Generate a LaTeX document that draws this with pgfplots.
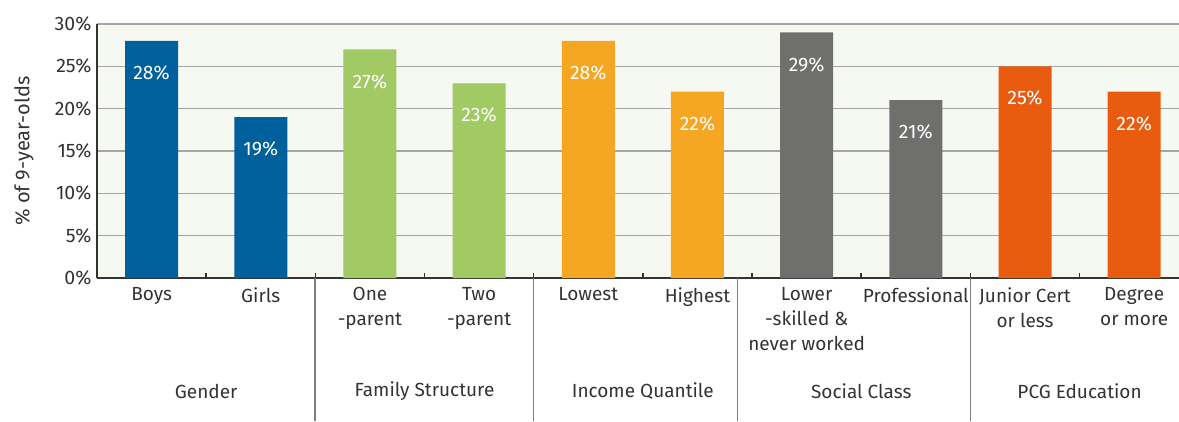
\documentclass[border=0pt]{standalone}
\usepackage{pgfplots}
\pgfplotsset{compat=1.18}
\usepackage{fontspec}
\setmainfont{Fira Sans}
\definecolor{cblue}{HTML}{00609C}
\definecolor{cgreen}{HTML}{A1C964}
\definecolor{cyellow}{HTML}{F5A623}
\definecolor{cgray}{HTML}{6F6F6E}
\definecolor{corange}{HTML}{E95C0F}
\definecolor{bg}{HTML}{F6F8F2}
\definecolor{txt}{HTML}{333333}
\definecolor{gridc}{HTML}{A5A5A5}
\begin{document}
\begin{tikzpicture}
\useasboundingbox (0,0) rectangle (1179pt,421pt);
\begin{axis}[
  at={(97pt,143pt)}, anchor=south west,
  scale only axis, width=1082pt, height=254pt,
  xmin=-0.5, xmax=9.41, ymin=0, ymax=30,
  axis x line*=bottom, axis y line*=left,
  axis line style={-, line width=1.5pt, color=txt},
  axis background/.style={fill=bg},
  ybar, bar width=53pt, bar shift=0pt,
  ymajorgrids, grid style={gridc, line width=1.2pt},
  ytick={0,5,...,30},
  yticklabel={\pgfmathprintnumber{\tick}\%},
  /pgf/number format/assume math mode=true,
  font=\fontsize{19}{25}\selectfont, text=txt,
  yticklabel style={font=\fontsize{19.5}{22}\selectfont, xshift=-2pt},
  major tick length=0pt,
  xtick={0,...,9},
  xticklabels={Boys, Girls, One\\-parent, Two\\-parent, Lowest, Highest, Lower\\-skilled \&\\never worked, Professional, Junior Cert\\or less, Degree\\or more},
  xticklabel style={align=center, anchor=north, yshift=-6pt, font=\fontsize{19}{25}\selectfont, text=txt},
  minor xtick={0.5,1.5,...,8.5},
  minor tick length=5pt, tick align=inside,
  minor tick style={line width=1.5pt, color=txt},
  nodes near coords={\pgfmathprintnumber{\pgfplotspointmeta}\%},
  every node near coord/.append style={anchor=center, yshift=-32pt, text=white, font=\fontsize{19.5}{20}\selectfont},
  clip=false,
]
\addplot[fill=cblue, draw=none] coordinates {(0,28) (1,19)};
\addplot[fill=cgreen, draw=none] coordinates {(2,27) (3,23)};
\addplot[fill=cyellow, draw=none] coordinates {(4,28) (5,22)};
\addplot[fill=cgray, draw=none] coordinates {(6,29) (7,21)};
\addplot[fill=corange, draw=none] coordinates {(8,25) (9,22)};
\foreach \s in {1.497,3.50,5.37,7.50}{
  \edef\temp{\noexpand\draw[gray, line width=1.2pt] (axis cs:\s,0) -- ([yshift=-143pt]axis cs:\s,0);}
  \temp
}
\node[text=txt, font=\fontsize{19}{20}\selectfont] at ([yshift=-113pt]axis cs:0.5,0) {Gender};
\node[text=txt, font=\fontsize{19}{20}\selectfont] at ([yshift=-113pt]axis cs:2.5,0) {Family Structure};
\node[text=txt, font=\fontsize{19}{20}\selectfont] at ([yshift=-113pt]axis cs:4.5,0) {Income Quantile};
\node[text=txt, font=\fontsize{19}{20}\selectfont] at ([yshift=-113pt]axis cs:6.5,0) {Social Class};
\node[text=txt, font=\fontsize{19}{20}\selectfont] at ([yshift=-113pt]axis cs:8.5,0) {PCG Education};
\node[rotate=90, text=txt, font=\fontsize{20}{20}\selectfont] at ([xshift=-73pt]rel axis cs:0,0.5) {\% of 9-year-olds};
\end{axis}
\end{tikzpicture}
\end{document}
